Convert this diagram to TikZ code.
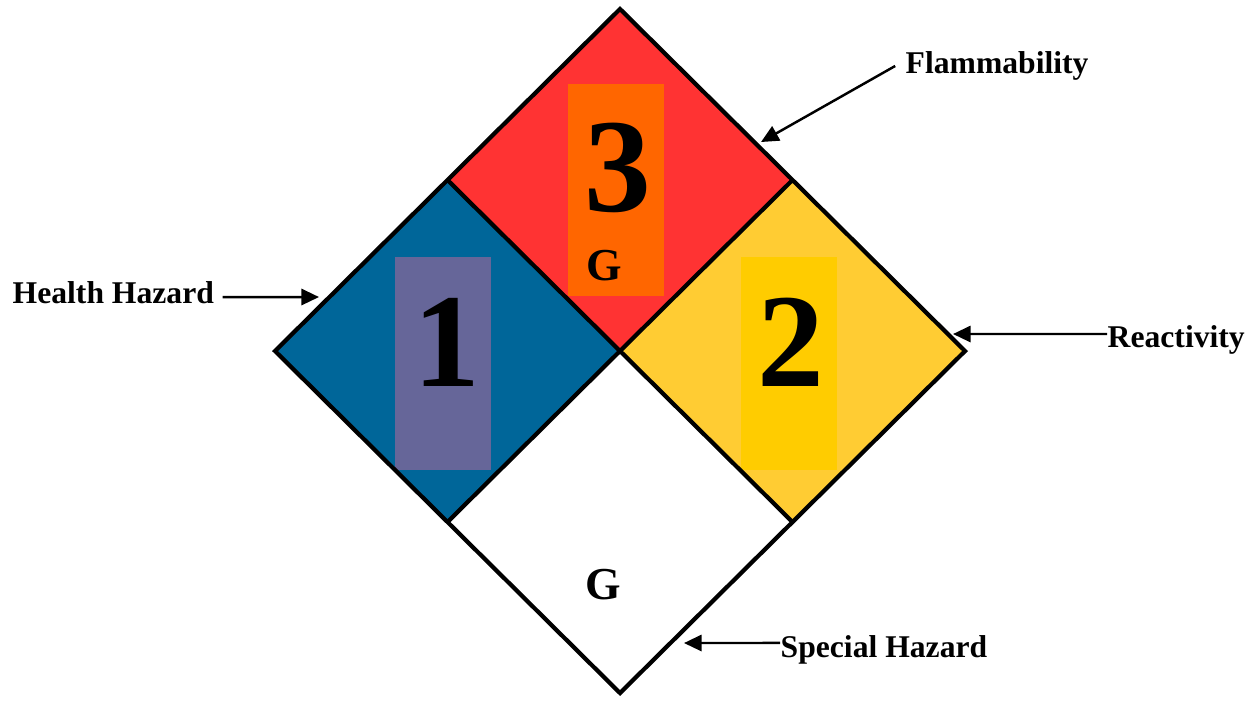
\documentclass[tikz,border=0pt]{standalone}
\usepackage{fontspec}
\setmainfont{Liberation Serif}
\usetikzlibrary{arrows.meta}
\definecolor{flamred}{HTML}{FF3333}
\definecolor{flamorange}{HTML}{FF6600}
\definecolor{healthblue}{HTML}{006699}
\definecolor{healthpurple}{HTML}{666699}
\definecolor{reactyellow}{HTML}{FFCC33}
\definecolor{reactgold}{HTML}{FFCC00}

\begin{document}
\begin{tikzpicture}[x=0.1mm, y=-0.1mm,
	lbl/.style={font=\fontsize{9}{9}\selectfont\bfseries, inner sep=0pt, anchor=base west},
	num/.style={font=\fontsize{38}{38}\selectfont\bfseries, inner sep=0pt, anchor=base},
	code/.style={font=\fontsize{13}{13}\selectfont\bfseries, inner sep=0pt, anchor=base},
	arr/.style={line width=0.7pt, -{Triangle[length=5pt,width=4.6pt]}}]
		%%%%% START %%%%%
		\useasboundingbox (0,0) rectangle (1253,700);
		
		\coordinate (T) at (620,9);
		\coordinate (L) at (275,351);
		\coordinate (R) at (965,351);
		\coordinate (B) at (620,693);
		\coordinate (C) at (620,351);
		\coordinate (TL) at (447.5,180);
		\coordinate (TR) at (792.5,180);
		\coordinate (BL) at (447.5,522);
		\coordinate (BR) at (792.5,522);
		
		\fill[flamred] (T) -- (TR) -- (C) -- (TL) -- cycle;
		\fill[healthblue] (TL) -- (C) -- (BL) -- (L) -- cycle;
		\fill[reactyellow] (TR) -- (R) -- (BR) -- (C) -- cycle;
		\fill[white] (C) -- (BR) -- (B) -- (BL) -- cycle;
		
		\fill[flamorange] (568,84) rectangle (664,296);
		\fill[healthpurple] (395,257) rectangle (491,470);
		\fill[reactgold] (741,257) rectangle (837,470);
		
		\draw[line width=1.2pt] (T) -- (R) -- (B) -- (L) -- cycle;
		\draw[line width=1.2pt] (TL) -- (BR);
		\draw[line width=1.2pt] (TR) -- (BL);
		
		\node[num] (flam) at (618,211) {3};
		\node[num] (health) at (447,386) {1};
		\node[num] (react) at (791,386) {2};
		\node[code] (flamg) at (604,280) {G};
		\node[code] (specg) at (603,599) {G};
		
		\node[lbl] (hh) at (12,303) {Health Hazard};
		\node[lbl] (fl) at (905,73) {Flammability};
		\node[lbl] (rx) at (1107,347) {Reactivity};
		\node[lbl] (sp) at (780,657) {Special Hazard};
		
		\coordinate (hh-tip) at (319,297);
		\coordinate (fl-tip) at (761,142);
		\coordinate (rx-tip) at (953,334);
		\coordinate (sp-tip) at (684,643);
		
		\draw[arr] ([xshift=2.3pt,yshift=1.7pt]hh.base east) -- (hh-tip);
		\draw[arr] ([xshift=-2.8pt,yshift=2pt]fl.base west) -- (fl-tip);
		\draw[arr] ([yshift=3.7pt]rx.base west) -- (rx-tip);
		\draw[arr] ([yshift=4pt]sp.base west) -- (sp-tip);
		
		%%%%% END %%%%%
	\end{tikzpicture}
\end{document}
